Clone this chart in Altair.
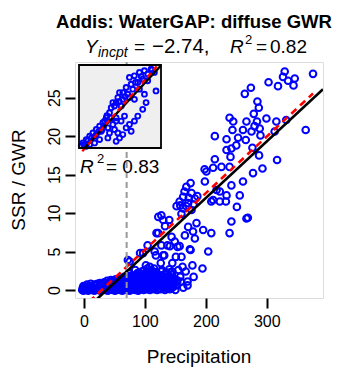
import altair as alt
import pandas as pd

FONT = "Liberation Sans"

# ---- monthly values: precipitation vs SSR / GWR ----
# scattered months at higher precipitation
precip_high = [329.5, 326.7, 346, 335, 344, 376, 303, 318.5, 274, 264, 284.7, 287, 278.7,
               239, 245, 266.7, 284, 299.5, 315.8, 332, 280, 243.7, 261, 275, 288.5, 364,
               313, 214.8, 234, 253, 265.6, 289.7, 250, 242, 234, 276.5, 240.5, 287.4,
               214.8, 317, 198, 212, 225.7, 239, 293, 201, 277.5, 261, 242, 198.4, 217.6]
ratio_high = [28.4, 27.7, 27.5, 27.2, 26.6, 28.1, 27.0, 26.5, 26.3, 25.5, 24.5, 23.7, 22.9,
              22.4, 21.9, 21.9, 21.9, 22.3, 21.9, 22.1, 21.3, 20.8, 20.8, 20.6, 21.0, 20.8,
              20.6, 20.0, 19.6, 19.8, 19.5, 20.1, 18.8, 18.4, 18.2, 18.5, 17.3, 17.5,
              17.0, 16.9, 15.7, 15.9, 16.0, 16.0, 15.8, 15.4, 15.2, 14.1, 13.6, 14.1, 13.0]

# months in the middle range
precip_mid = [168, 176.5, 162.8, 182, 157, 171, 162.8, 176.5, 223, 234, 209, 223, 233,
              255.7, 251, 266.7, 242, 127, 130, 140, 184.7, 171, 179, 195.6, 209, 165.6,
              121.8, 143.8, 149, 182, 239, 127, 141, 157, 173.8, 204, 97, 116, 130, 160,
              212, 269, 165, 172, 158, 168, 180, 186, 175, 160, 152, 133, 119, 122]
ratio_mid = [13.4, 12.6, 12.1, 11.9, 11.5, 11.3, 10.6, 10.4, 12.8, 12.3, 11.5, 11.5, 11.5,
             12.3, 10.8, 9.3, 8.9, 9.7, 9.1, 9.1, 8.7, 8.2, 7.6, 7.8, 7.4, 7.1,
             7.4, 6.9, 6.3, 6.7, 7.4, 5.8, 5.7, 5.7, 5.3, 5.0, 4.8, 5.0, 4.5, 4.3,
             11.7, 9.4, 12.8, 12.0, 11.0, 10.9, 11.1, 12.2, 13.9, 9.9, 10.9, 8.3, 7.4, 9.5]

# months with little recharge
precip_low = [104.4, 137, 153.6, 175, 118, 150.8, 101.6, 126, 145, 161.8, 178, 194.5,
              145, 167, 159, 137, 121, 115, 104, 88, 74, 170, 180, 75, 92, 108, 72, 131.7,
              112, 140, 155, 128, 98, 84, 163, 170, 158]
ratio_low = [5.8, 5.8, 5.6, 5.2, 4.5, 4.3, 3.2, 3.5, 3.5, 3.0, 3.2, 2.8,
             2.4, 2.4, 1.1, 0.4, 1.9, 2.8, 2.8, 2.2, 2.2, 1.1, 1.7, 3.7, 4.8, 3.0, 3.9, 4.5,
             2.5, 2.7, 2.6, 2.6, 2.5, 2.6, 0.3, 0.6, 1.7]

# dry months close to zero
precip_dry = [-3, -1, 1, 4, 7, 10, 13, 17, 20, 24, 27, 31, 35, 39, 43, 47, 51, 55, 59, 63,
              67, 71, 75, 80, 84, 89, 93, 98, 103, 108, 114, 120, 126, 133, 141, 150,
              -2, 0, 3, 6, 9, 12, 16, 19, 22, 26, 29, 33, 37, 41, 45, 49, 53, 57, 61, 65,
              69, 73, 77, 82, 87, 91, 96, 101, 106, 111, 117, 123, 130, 137, 145,
              -1, 2, 8, 14, 19, 25, 31, 36, 42, 48, 53, 58, 64, 69, 75, 81, 86, 92, 97,
              103, 109, 115, 121, 128, 135, 142,
              5, 11, 17, 22, 28, 34, 39, 45, 50, 56, 62, 67, 72, 78, 83, 89, 94, 100,
              106, 112, 118, 125, 131, 138, 145, 151,
              26, 33, 40, 46, 52, 59, 65, 71, 78, 84, 90, 96, 102, 108, 114, 121, 127,
              134, 141, 148,
              38, 44, 50, 56, 62, 68, 74, 80, 87, 93, 99, 105, 111, 118, 124, 131, 138,
              146, 153,
              52, 60, 67, 74, 81, 88, 95, 101, 108, 115, 122, 129, 136, 143, 152,
              66, 72, 79, 85, 91, 97, 104, 111, 118, 125, 132, 139, 147,
              78, 86, 93, 100, 107, 114, 121, 128, 135, 144,
              95, 103, 111, 119, 127, 135, 142]
ratio_dry = [0.0, -0.1, 0.1, 0.0, -0.1, 0.1, 0.0, -0.1, 0.1, 0.0, -0.1, 0.1, 0.0, -0.1, 0.1,
             0.0, -0.1, 0.1, 0.0, -0.1, 0.1, 0.0, -0.1, 0.1, 0.0, -0.1, 0.1, 0.0, 0.1, 0.0,
             0.1, 0.0, 0.1, 0.0, 0.1, 0.0,
             0.3, 0.2, 0.3, 0.2, 0.3, 0.2, 0.3, 0.2, 0.3, 0.2, 0.3, 0.2, 0.3, 0.2, 0.3,
             0.2, 0.3, 0.2, 0.3, 0.2, 0.3, 0.2, 0.3, 0.2, 0.3, 0.2, 0.3, 0.2, 0.3, 0.2,
             0.3, 0.2, 0.3, 0.2, 0.3,
             0.5, 0.4, 0.5, 0.4, 0.6, 0.5, 0.4, 0.6, 0.5, 0.4, 0.6, 0.5, 0.4, 0.6, 0.5, 0.4,
             0.6, 0.5, 0.4, 0.6, 0.5, 0.4, 0.6, 0.5, 0.4, 0.5,
             0.7, 0.8, 0.7, 0.8, 0.7, 0.8, 0.7, 0.8, 0.7, 0.8, 0.7, 0.8, 0.7, 0.8, 0.7,
             0.8, 0.7, 0.8, 0.7, 0.8, 0.7, 0.8, 0.7, 0.8, 0.7, 0.6,
             0.9, 1.0, 0.9, 1.1, 1.0, 0.9, 1.1, 1.0, 0.9, 1.1, 1.0, 0.9, 1.1, 1.0, 0.9, 1.1,
             1.0, 0.9, 1.1, 0.8,
             1.2, 1.3, 1.2, 1.3, 1.2, 1.3, 1.2, 1.3, 1.2, 1.3, 1.2, 1.3, 1.2, 1.3, 1.2,
             1.3, 1.2, 1.3, 1.1,
             1.4, 1.5, 1.4, 1.6, 1.5, 1.4, 1.6, 1.5, 1.4, 1.6, 1.5, 1.4, 1.6, 1.5, 1.3,
             1.7, 1.8, 1.7, 1.8, 1.7, 1.8, 1.7, 1.8, 1.7, 1.8, 1.7, 1.8, 1.6,
             1.9, 2.0, 2.1, 1.9, 2.0, 2.2, 2.0, 1.9, 2.1, 2.0,
             2.4, 2.3, 2.4, 2.3, 2.4, 2.3, 2.3]

# regression lines
fit_intercept, fit_slope = -2.74, 0.0735     # solid black
alt_intercept, alt_slope = -2.13, 0.0736     # dashed red
precip_threshold = 70

# inset panel (scaled 0-10 on both axes)
inset_x = [6.15, 6.76, 7.37, 7.98, 8.38, 8.79, 9.19, 7.77, 8.38, 7.17, 6.36, 5.75, 5.34, 5.95,
           6.56, 4.94, 4.74, 5.34, 4.53, 4.33, 5.14, 6.15, 6.76, 7.37, 7.98, 8.18, 9.39, 7.77,
           7.17, 6.76, 6.15, 5.75, 6.36, 5.34, 4.94, 4.53, 3.72, 3.32, 2.91, 2.51, 2.11, 1.70,
           1.30, 0.89, 0.49, 0.28, 2.11, 2.71, 3.52, 4.13, 4.53, 3.12, 3.72, 4.33, 4.74, 3.52,
           2.51, 1.90, 1.30, 0.89, 4.53, 5.14, 5.55, 3.93, 4.13,
           1.5, 2.4, 3.0, 3.9, 0.6, 1.1, 2.0, 2.8, 3.4, 4.9, 5.6, 6.9, 7.6, 8.9]
inset_y = [8.50, 8.70, 9.11, 9.31, 8.91, 9.51, 9.11, 8.30, 8.10, 7.89, 7.69, 7.29, 6.68, 6.48,
           7.09, 6.68, 6.07, 5.87, 5.47, 5.06, 5.06, 6.07, 5.87, 7.09, 6.48, 5.47, 6.88, 4.66,
           3.85, 3.24, 2.83, 2.43, 2.02, 1.62, 1.21, 0.81, 4.25, 3.64, 3.04, 2.63, 2.23, 1.82,
           1.42, 1.01, 0.61, 0.28, 1.62, 2.02, 2.43, 2.83, 3.24, 3.24, 1.82, 2.23, 1.82, 1.21,
           1.01, 0.61, 0.40, 0.20, 3.64, 3.24, 3.85, 4.86, 5.47,
           1.2, 2.0, 2.6, 3.6, 0.4, 0.9, 1.4, 2.2, 3.9, 5.6, 6.2, 7.9, 8.6, 9.4]
inset_fit = (-0.736, 1.067)
inset_alt = (-0.85, 1.126)

# ---- tables ----
df = pd.DataFrame({
    "precip": precip_high + precip_mid + precip_low + precip_dry,
    "ratio": ratio_high + ratio_mid + ratio_low + ratio_dry,
})
x_lo, x_hi = -14.8, 392.4
y_lo, y_hi = -1.04, 29.64
fit_df = pd.DataFrame({"precip": [x_lo, x_hi]})
fit_df["ratio"] = fit_intercept + fit_slope * fit_df["precip"]
alt_df = pd.DataFrame({"precip": [-6.0, 376.0]})
alt_df["ratio"] = alt_intercept + alt_slope * alt_df["precip"]

inset_df = pd.DataFrame({"u": inset_x, "v": inset_y})
ifit_df = pd.DataFrame({"u": [0.69, 10.0]})
ifit_df["v"] = inset_fit[0] + inset_fit[1] * ifit_df["u"]
ialt_df = pd.DataFrame({"u": [0.40, 9.64]})
ialt_df["v"] = inset_alt[0] + inset_alt[1] * ialt_df["u"]

xs = alt.Scale(domain=[x_lo, x_hi], nice=False, zero=False)
ys = alt.Scale(domain=[y_lo, y_hi], nice=False, zero=False)

axis_common = dict(title=None, domain=False, grid=False, ticks=True, tickColor="black",
                   tickWidth=2, tickSize=10, labelFont=FONT, labelFontSize=16,
                   labelColor="black")
x_axis = alt.Axis(values=[0, 100, 200, 300], labelPadding=5, **axis_common)
y_axis = alt.Axis(values=[0, 5, 10, 15, 20, 25], labelAngle=270, labelAlign="center",
                  labelBaseline="bottom", labelPadding=3, **axis_common)


def px(field="precip:Q"):
    return alt.X(field, scale=xs, axis=x_axis)


def py(field="ratio:Q"):
    return alt.Y(field, scale=ys, axis=y_axis)


points = alt.Chart(df).mark_point(
    shape="circle", filled=False, color="#0000FF", size=44, strokeWidth=2, opacity=1
).encode(x=px(), y=py())

vline = alt.Chart(pd.DataFrame({"precip": [precip_threshold]})).mark_rule(
    color="#999999", strokeWidth=2, strokeDash=[6, 4]
).encode(x=px())

fit_line = alt.Chart(fit_df).mark_line(color="black", strokeWidth=2.6, clip=True).encode(
    x=px(), y=py())
alt_line = alt.Chart(alt_df).mark_line(color="#FF0000", strokeWidth=2.6, strokeDash=[7, 5],
                                       clip=True).encode(x=px(), y=py())


def label(text, x, y, size=19, style="normal", weight="normal", align="left", angle=0):
    return alt.Chart(pd.DataFrame({"t": [text]})).mark_text(
        font=FONT, fontSize=size, fontStyle=style, fontWeight=weight, align=align,
        baseline="alphabetic", angle=angle, color="black"
    ).encode(text="t:N", x=alt.value(x), y=alt.value(y))


texts = [
    label("Addis: WaterGAP: diffuse GWR", 119, -34, size=18.5, weight="bold", align="center"),
    label("Y", 10, -9, style="italic"),
    label("incpt", 23, -5, size=14, style="italic"),
    label("=", 59, -9),
    label("\u22122.74,", 77, -9, size=20.5),
    label("R", 155, -9, style="italic"),
    label("2", 170, -18, size=13),
    label("=", 181, -9),
    label("0.82", 195, -9),
    label("Precipitation", 124, 301, align="center"),
    label("SSR / GWR", -50, 118, align="center", angle=270),
]

main = alt.layer(points, fit_line, alt_line, vline, *texts)

# ---- inset panel ----
ixs = alt.Scale(domain=[0, 10], range=[4, 86], nice=False, zero=False)
iys = alt.Scale(domain=[0, 10], range=[86, 3], nice=False, zero=False)
box = pd.DataFrame({"k": [0]})
inset_bg = alt.Chart(box).mark_rect(fill="#EFEFEF", stroke=None).encode(
    x=alt.value(4), x2=alt.value(86), y=alt.value(3), y2=alt.value(86))
inset_pts = alt.Chart(inset_df).mark_point(
    shape="circle", filled=False, color="#0000FF", size=24, strokeWidth=1.9, opacity=1
).encode(x=alt.X("u:Q", scale=ixs, axis=None), y=alt.Y("v:Q", scale=iys, axis=None))
inset_fit_line = alt.Chart(ifit_df).mark_line(color="black", strokeWidth=2.4).encode(
    x=alt.X("u:Q", scale=ixs, axis=None), y=alt.Y("v:Q", scale=iys, axis=None))
inset_alt_line = alt.Chart(ialt_df).mark_line(color="#FF0000", strokeWidth=2.4,
                                              strokeDash=[5, 4]).encode(
    x=alt.X("u:Q", scale=ixs, axis=None), y=alt.Y("v:Q", scale=iys, axis=None))
inset_border = alt.Chart(box).mark_rect(fill=None, stroke="black", strokeWidth=1.8).encode(
    x=alt.value(4), x2=alt.value(86), y=alt.value(3), y2=alt.value(86))

inset = alt.layer(inset_bg, inset_pts, inset_fit_line, inset_alt_line, inset_border,
                  label("R", 5, 111, style="italic"),
                  label("2", 22, 101, size=13),
                  label("= 0.83", 31, 111))

chart = alt.layer(main, inset).resolve_scale(x="independent", y="independent").properties(
    width=248, height=236,
    autosize=alt.AutoSizeParams(type="none"),
    padding={"left": 75, "top": 62, "right": 21, "bottom": 73},
).configure_view(stroke="black", strokeWidth=2).configure(background="white")

chart.save("out.html", embed_options={"renderer": "svg", "actions": False})
